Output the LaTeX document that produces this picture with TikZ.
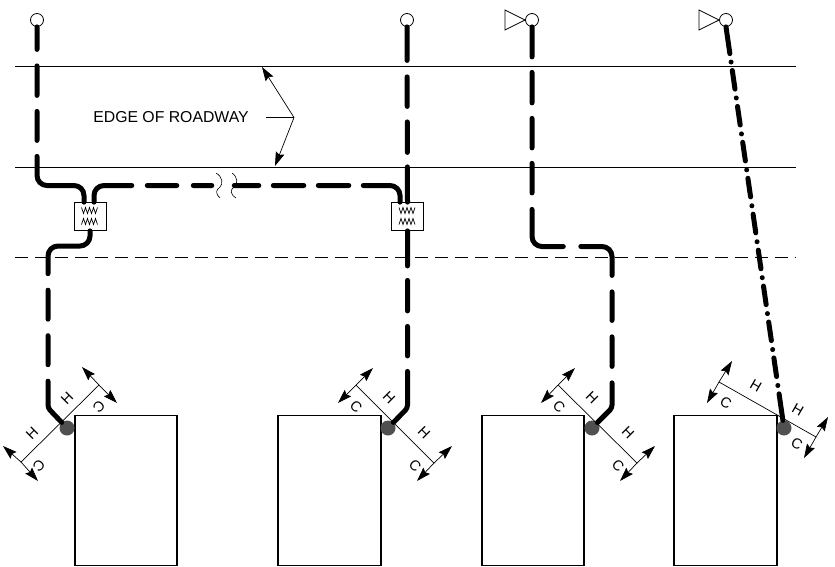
\documentclass[tikz,border=0pt]{standalone}
\usepackage{fontspec}
\setmainfont{Liberation Sans}
\usetikzlibrary{arrows.meta, positioning}
\definecolor{dotgray}{RGB}{80, 80, 80}
\tikzstyle{edgeline} = [line width=0.9pt]
\tikzstyle{building} = [rectangle, draw, line width=1.5pt, inner sep=0pt, minimum height=150pt]
\tikzstyle{meter} = [circle, draw, fill=white, line width=0.8pt, inner sep=0pt, minimum size=13pt]
\tikzstyle{valve} = [line width=0.8pt, line join=miter]
\tikzstyle{jbox} = [rectangle, draw, fill=white, line width=0.8pt, inner sep=0pt, minimum width=32pt, minimum height=28pt]
\tikzstyle{tap} = [circle, fill=dotgray, inner sep=0pt, minimum size=15pt]
\tikzstyle{pipe} = [line width=5pt, line cap=round, rounded corners=10pt]
\tikzstyle{leader} = [line width=0.7pt]
\tikzstyle{arrow} = [line width=0.7pt, -{Stealth[length=14pt, width=9pt, inset=2pt]}]
\tikzstyle{hc} = [font=\fontsize{14.5}{16}\selectfont, inner sep=0pt]
\tikzset{coils/.pic={
    \draw[line width=0.7pt] (-8.5,-9) -- ++(2,6) -- ++(2,-6) -- ++(2,6) -- ++(2,-6) -- ++(2,6) -- ++(2,-6) -- ++(2,6) -- ++(2,-6);
    \draw[line width=0.7pt] (-8.5,8) -- ++(2,-6) -- ++(2,6) -- ++(2,-6) -- ++(2,6) -- ++(2,-6) -- ++(2,6) -- ++(2,-6) -- ++(2,6);
}}

\begin{document}
\begin{tikzpicture}[x=1pt, y=-1pt]
\useasboundingbox (0,0) rectangle (835,566);

% Road edges
\draw[edgeline] (15,66.5) -- (796,66.5);
\draw[edgeline] (15,167) -- (796,167);
\draw[edgeline, dash pattern=on 13pt off 7pt] (15,257) -- (796,257);

% Buildings
\node[building, minimum width=102pt] (bldga) at (126,490.5) {};
\node[building, minimum width=103pt] (bldgb) at (329.5,490.5) {};
\node[building, minimum width=102pt] (bldgc) at (533,490.5) {};
\node[building, minimum width=103pt] (bldgd) at (725.5,490.5) {};

% Taps
\node[tap] (tapa) at (67,428) {};
\node[tap] (tapb) at (388,428) {};
\node[tap] (tapc) at (592,428) {};
\node[tap] (tapd) at (784,428) {};

% Meters
\node[meter] (mtra) at (37,20) {};
\node[meter] (mtrb) at (407,20) {};
\node[meter] (mtrc) at (532,20) {};
\node[meter] (mtrd) at (726,20) {};

% Valves
\draw[valve] (mtrc.west) -- (505,10) -- (505,30) -- cycle;
\draw[valve] (mtrd.west) -- (699,10) -- (699,30) -- cycle;

% Junction boxes
\node[jbox] (jboxa) at (90,216.5) {};
\node[jbox] (jboxb) at (407.5,216.5) {};
\pic at (90,216.5) {coils};
\pic at (407.5,216.5) {coils};

% Pipes
\draw[pipe, dash pattern=on 22.5pt off 16.5pt on 29.5pt off 16pt on 29pt off 16pt on 300pt off 0pt]
    (mtra.south) -- (37,185.5) -- (84,185.5) -- ([xshift=-6pt]jboxa.north);
\draw[pipe, dash pattern=on 50pt off 15.5pt on 29.5pt off 16.5pt on 18.5pt off 22.5pt on 24.5pt off 14.5pt on 30.5pt off 14.5pt on 30.5pt off 14.5pt on 100pt off 0pt]
    ([xshift=4pt]jboxa.north) -- (94,185.5) -- (400,185.5) -- ([xshift=-7.5pt]jboxb.north);
\draw[pipe, dash pattern=on 76pt off 16.5pt on 29pt off 16.5pt on 29pt off 16.5pt on 100pt off 0pt]
    (jboxa.south) -- (90,246) -- (48,246) [rounded corners=3pt] -- (48,408) -- (tapa);
\draw[pipe, dash pattern=on 33.5pt off 16.5pt on 29.5pt off 15.5pt on 30.5pt off 14.5pt on 100pt off 0pt]
    (mtrb.south) -- (jboxb.north);
\draw[pipe, dash pattern=on 35pt off 14.5pt on 30.5pt off 15.5pt on 29.5pt off 15.5pt on 100pt off 0pt, rounded corners=3pt]
    (jboxb.south) -- (407.5,408) -- (tapb);
\draw[pipe, dash pattern=on 30pt off 15.5pt on 30.5pt off 15.5pt on 29.5pt off 15.5pt on 29.5pt off 16.5pt on 64pt off 17.5pt on 55.7pt off 16.5pt on 28.5pt off 16.5pt on 29.5pt off 16.5pt on 100pt off 0pt]
    (mtrc.south) -- (532,246.5) -- (612,246.5) [rounded corners=3pt] -- (612,408) -- (tapc);
\draw[pipe, rounded corners=0pt, dash pattern=on 27pt off 8.5pt on .01pt off 8.5pt on 18.8pt off 9pt on .01pt off 8.5pt on 18.8pt off 9pt on .01pt off 8.5pt on 18.8pt off 9pt on .01pt off 8.5pt on 18.8pt off 9pt on .01pt off 8.5pt on 18.8pt off 9pt on .01pt off 8.5pt on 18.8pt off 9pt on .01pt off 8.5pt on 18.8pt off 9pt on .01pt off 8.5pt on 18.8pt off 9pt on .01pt off 8.5pt on 18.8pt off 9pt on .01pt off 8.5pt on 60pt off 0pt]
    (mtrd.south) -- (tapd);

% Break marks
\draw[line width=0.6pt] (216,173) .. controls (223,177) and (223,184) .. (220,187) .. controls (216,190) and (215,193) .. (220,198);
\draw[line width=0.6pt] (232,173) .. controls (238,177) and (238,184) .. (234,187) .. controls (230,190) and (230,194) .. (236,198);

% Roadway label
\node[font=\fontsize{15.8}{18}\selectfont, inner sep=0pt] (edgelbl) at (171,117.5) {EDGE OF ROADWAY};
\coordinate (elbow) at (294,117.5);
\coordinate (edgetop) at (262,67);
\coordinate (edgebot) at (275,166);
\draw[leader] ([xshift=17pt]edgelbl.east) -- (elbow);
\draw[arrow] (elbow) -- (edgetop);
\draw[arrow] (elbow) -- (edgebot);

% Offset leaders, building 1
\coordinate (enda) at (99,385);
\coordinate (endb) at (21,462);
\draw[leader] (enda) -- (endb);
\draw[arrow] (enda) -- ++(-17,-18);
\draw[arrow] (enda) -- ++(18,18);
\draw[arrow] (endb) -- ++(-18,-16);
\draw[arrow] (endb) -- ++(17,19);
\node[hc, rotate=45] (ha) at (67,398) {H};
\node[hc, rotate=45] (hb) at (32,433) {H};
\node[hc, rotate=225] (ca) at (99,407) {C};
\node[hc, rotate=225] (cb) at (39,466) {C};

% Offset leaders, building 2
\coordinate (endc) at (356,385);
\coordinate (endd) at (434,463);
\draw[leader] (endc) -- (endd);
\draw[arrow] (endc) -- ++(-18,18);
\draw[arrow] (endc) -- ++(17,-17);
\draw[arrow] (endd) -- ++(-17,18);
\draw[arrow] (endd) -- ++(18,-17);
\node[hc, rotate=-45] (hc) at (389,398) {H};
\node[hc, rotate=-45] (hd) at (424,433) {H};
\node[hc, rotate=-45] (cc) at (356,407) {C};
\node[hc, rotate=-45] (cd) at (415,466) {C};

% Offset leaders, building 3
\coordinate (ende) at (558,385);
\coordinate (endf) at (637,463);
\draw[leader] (ende) -- (endf);
\draw[arrow] (ende) -- ++(-17,18);
\draw[arrow] (ende) -- ++(17,-17);
\draw[arrow] (endf) -- ++(-17,18);
\draw[arrow] (endf) -- ++(18,-17);
\node[hc, rotate=-45] (he) at (592,398) {H};
\node[hc, rotate=-45] (hf) at (628,433) {H};
\node[hc, rotate=-45] (ce) at (559,407) {C};
\node[hc, rotate=-45] (cf) at (618,466) {C};

% Offset leaders, building 4
\coordinate (endg) at (719,382);
\coordinate (endh) at (816,437);
\draw[leader] (endg) -- (endh);
\draw[arrow] (endg) -- ++(-12,21);
\draw[arrow] (endg) -- ++(13,-21);
\draw[arrow] (endh) -- ++(-12,21);
\draw[arrow] (endh) -- ++(12,-20);
\node[hc, rotate=-30] (hg) at (756,386) {H};
\node[hc, rotate=-30] (hh) at (798,410) {H};
\node[hc, rotate=-30] (cg) at (726,403) {C};
\node[hc, rotate=-30] (ch) at (797,444) {C};
\end{tikzpicture}
\end{document}
